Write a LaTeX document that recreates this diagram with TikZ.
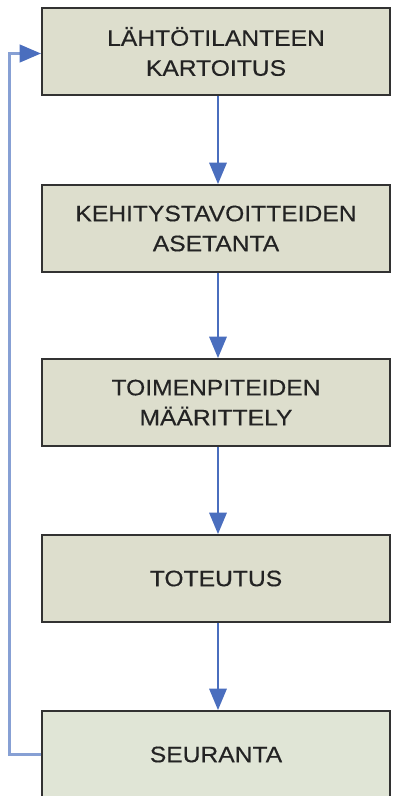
\documentclass[tikz,border=0pt]{standalone}
\usepackage{fontspec}
\setmainfont[FakeStretch=1.1,FakeBold=0.35]{Liberation Sans}
\usetikzlibrary{arrows.meta}
\definecolor{boxfill}{RGB}{221,222,205}
\definecolor{lastfill}{RGB}{224,229,214}
\definecolor{boxline}{RGB}{50,50,50}
\definecolor{txt}{RGB}{35,35,35}
\definecolor{flow}{RGB}{74,110,190}
\definecolor{back}{RGB}{135,160,212}
\tikzset{
  stage/.style={draw=boxline, line width=1.4pt, fill=boxfill,
    minimum width=261pt, minimum height=65.25pt, inner sep=0pt,
    align=center, text=txt,
    font=\fontsize{16.8}{22.5}\selectfont},
  flowarrow/.style={draw=flow, line width=1.5pt,
    -{Triangle[width=13pt,length=16pt]}},
  backarrow/.style={draw=back, line width=2.2pt,
    -{Triangle[width=13pt,length=16pt,color=flow]}}
}
\begin{document}
\begin{tikzpicture}[x=0.75pt,y=-0.75pt]
  \useasboundingbox (0,0) rectangle (393,796);
  \clip (0,0) rectangle (393,796);
  \fill[white] (0,0) rectangle (393,796);
  \node[stage] (b1) at (216,51.5) {LÄHTÖTILANTEEN\\KARTOITUS};
  \node[stage] (b2) at (216,228.5) {KEHITYSTAVOITTEIDEN\\ASETANTA};
  \node[stage] (b3) at (216,402.5) {TOIMENPITEIDEN\\MÄÄRITTELY};
  \node[stage] (b4) at (216,578.5) {TOTEUTUS};
  \node[stage, fill=lastfill] (b5) at (216,754.5) {SEURANTA};
  \draw[flowarrow] ([xshift=1.5pt]b1.south) -- ([xshift=1.5pt]b2.north);
  \draw[flowarrow] ([xshift=1.5pt]b2.south) -- ([xshift=1.5pt]b3.north);
  \draw[flowarrow] ([xshift=1.5pt]b3.south) -- ([xshift=1.5pt]b4.north);
  \draw[flowarrow] ([xshift=1.5pt]b4.south) -- ([xshift=1.5pt]b5.north);
  \coordinate (loopfoot) at ([xshift=-24pt]b5.west);
  \draw[backarrow] (b5.west) -- (loopfoot) |- ([yshift=-1.5pt]b1.west);
\end{tikzpicture}
\end{document}
